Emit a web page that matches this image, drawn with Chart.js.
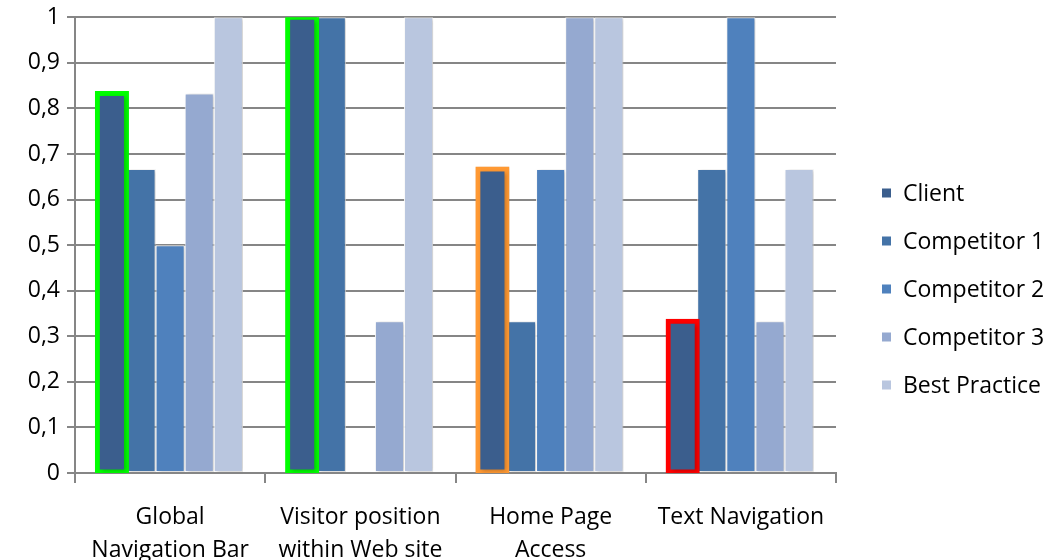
<!DOCTYPE html>
<html>
<head>
<meta charset="utf-8">
<script src="https://cdn.jsdelivr.net/npm/chart.js@4/dist/chart.umd.min.js"></script>
<style>
  html, body { margin: 0; padding: 0; background: #fff; }
  #wrap { position: relative; width: 1060px; height: 560px; }
</style>
</head>
<body>
<div id="wrap"><canvas id="chart" width="1060" height="560"></canvas></div>
<script>
// カテゴリ
const categories = [
  ['Global', 'Navigation Bar'],
  ['Visitor position', 'within Web site'],
  ['Home Page', 'Access'],
  ['Text Navigation'],
];
// 系列名と値
const seriesNames = ['Client', 'Competitor 1', 'Competitor 2', 'Competitor 3', 'Best Practice'];
const clientValues = [0.833, 1, 0.667, 0.333];
const competitor1Values = [0.667, 1, 0.333, 0.667];
const competitor2Values = [0.5, 0, 0.667, 1];
const competitor3Values = [0.833, 0.333, 1, 0.333];
const bestPracticeValues = [1, 1, 1, 0.667];
// Clientの枠の色（評価）
const clientHighlight = ['#00ff00', '#00ff00', '#ff9933', '#ff0000'];

const seriesColors = ['#3b5e8d', '#4473a7', '#4f81bd', '#95a9d0', '#b9c6df'];
const FONT = "'Open Sans', 'Noto Sans', sans-serif";

const allValues = [clientValues, competitor1Values, competitor2Values, competitor3Values, bestPracticeValues];

const datasets = allValues.map(function (vals, i) {
  const ds = {
    label: seriesNames[i],
    data: vals,
    backgroundColor: seriesColors[i],
    borderColor: '#ffffff',
    borderWidth: 1,
    borderSkipped: false,
  };
  if (i === 0) {
    ds.borderColor = clientHighlight;
    ds.borderWidth = 5;
    ds.inflateAmount = 2.5;
  }
  return ds;
});

//棒の影
const barShadow = {
  id: 'barShadow',
  beforeDatasetsDraw(chart) {
    const ctx = chart.ctx;
    ctx.save();
    ctx.shadowColor = 'rgba(0,0,0,0.22)';
    ctx.shadowBlur = 4;
    ctx.shadowOffsetX = 2;
    ctx.shadowOffsetY = 1;
  },
  afterDatasetsDraw(chart) {
    chart.ctx.restore();
  },
};

//右側の凡例
const sideLegend = {
  id: 'sideLegend',
  afterDraw(chart) {
    const ctx = chart.ctx;
    ctx.save();
    ctx.font = '23px ' + FONT;
    ctx.textAlign = 'left';
    ctx.textBaseline = 'middle';
    chart.data.datasets.forEach(function (ds, i) {
      const y = 193 + i * 48;
      ctx.fillStyle = ds.backgroundColor;
      ctx.fillRect(882, y - 4.5, 9, 9);
      ctx.fillStyle = '#000000';
      ctx.fillText(ds.label, 903, y + 1);
    });
    ctx.restore();
  },
};

const gridColor = '#868686';

new Chart(document.getElementById('chart'), {
  type: 'bar',
  data: { labels: categories, datasets: datasets },
  options: {
    responsive: false,
    animation: false,
    devicePixelRatio: 1,
    layout: { padding: { top: 6, right: 224, left: 0, bottom: 0 } },
    categoryPercentage: 0.765,
    barPercentage: 1,
    scales: {
      x: {
        grid: {
          drawOnChartArea: false,
          drawTicks: true,
          tickLength: 10,
          color: gridColor,
          lineWidth: 2,
        },
        border: { color: gridColor, width: 2 },
        ticks: {
          color: '#000000',
          padding: 18,
          maxRotation: 0,
          autoSkip: false,
          font: { family: FONT, size: 23, lineHeight: 1.435 },
        },
        afterFit(scale) {
          scale.height = 87;
        },
      },
      y: {
        min: 0,
        max: 1,
        grid: {
          color: gridColor,
          lineWidth: 2,
          tickLength: 8,
        },
        border: { color: gridColor, width: 2 },
        ticks: {
          stepSize: 0.1,
          color: '#000000',
          padding: 7,
          font: { family: FONT, size: 23, lineHeight: 0.9 },
          callback: function (value) {
            return (Math.round(value * 10) / 10).toString().replace('.', ',');
          },
        },
        afterFit(scale) {
          scale.width = 75;
        },
      },
    },
    plugins: {
      legend: { display: false },
      tooltip: { enabled: false },
    },
  },
  plugins: [barShadow, sideLegend],
});
</script>
</body>
</html>
